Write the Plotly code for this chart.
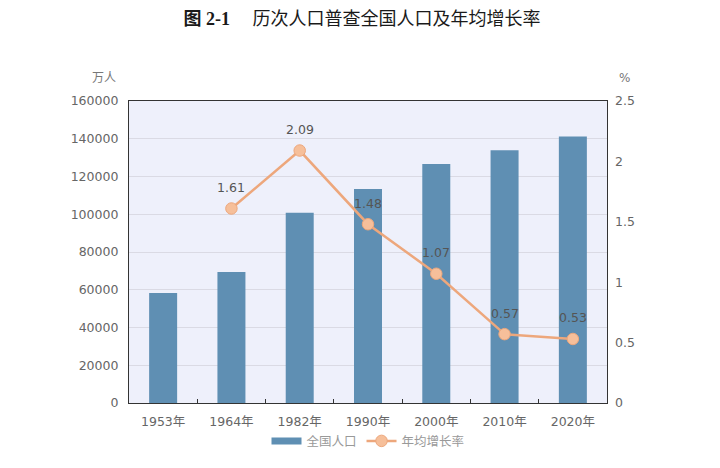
import plotly.graph_objects as go

categories = ["1953年", "1964年", "1982年", "1990年", "2000年", "2010年", "2020年"]
population = [58260, 69458, 100818, 113368, 126583, 133972, 141178]
growth_cats = ["1964年", "1982年", "1990年", "2000年", "2010年", "2020年"]
growth = [1.61, 2.09, 1.48, 1.07, 0.57, 0.53]
growth_labels = ["1.61", "2.09", "1.48", "1.07", "0.57", "0.53"]

font_fam = "DejaVu Sans, Noto Sans CJK SC, sans-serif"
tick_color = "#666666"
bar_color = "#5f8fb3"
line_color = "#eda77c"

# the page body has an 8px default margin; size the figure to fit the window
W, H = 712, 460

fig = go.Figure()
fig.add_trace(go.Bar(
    x=categories, y=population, name="全国人口",
    marker=dict(color=bar_color, line=dict(width=0)),
    width=0.41, yaxis="y", showlegend=False,
))
# legend proxy for the bar series (wide rectangle symbol)
fig.add_trace(go.Scatter(
    x=[None], y=[None], name="全国人口", mode="lines",
    line=dict(color=bar_color, width=7), showlegend=True,
))
fig.add_trace(go.Scatter(
    x=growth_cats, y=growth, name="年均增长率", yaxis="y2",
    mode="lines+markers",
    line=dict(color=line_color, width=2.5),
    marker=dict(color="#f6bf9a", size=11.5, line=dict(color=line_color, width=1)),
    cliponaxis=False,
))

annotations = [
    dict(x=c, y=v, xref="x", yref="y2", text=t, showarrow=False,
         yshift=21, font=dict(size=12.5, color="#555555", family=font_fam))
    for c, v, t in zip(growth_cats, growth, growth_labels)
]
annotations += [
    dict(text="万人", xref="paper", yref="paper", x=-0.023, y=1.075,
         xanchor="right", yanchor="middle", showarrow=False,
         font=dict(size=12, color="#777777")),
    dict(text="%", xref="paper", yref="paper", x=1.02, y=1.075,
         xanchor="left", yanchor="middle", showarrow=False,
         font=dict(size=12, color="#777777")),
]

fig.update_layout(
    width=W, height=H,
    margin=dict(l=121, r=113, t=93, b=65, autoexpand=False),
    paper_bgcolor="white",
    plot_bgcolor="#eef0fb",
    font=dict(family=font_fam, color=tick_color, size=12),
    title=dict(
        text="<b>图 2-1</b>     历次人口普查全国人口及年均增长率",
        x=354 / W, xanchor="center", xref="container",
        y=1 - 11 / H, yref="container", yanchor="middle",
        font=dict(family="Liberation Serif, Noto Sans CJK SC, serif", size=18, color="#1a1a1a"),
    ),
    bargap=0.59,
    showlegend=True,
    legend=dict(
        orientation="h", x=0.5, xanchor="center", y=-0.077, yanchor="top",
        font=dict(size=12.5, color="#999999", family=font_fam),
        bgcolor="rgba(0,0,0,0)", itemwidth=30, tracegroupgap=0,
        traceorder="normal",
    ),
    xaxis=dict(
        type="category", categoryorder="array", categoryarray=categories,
        showline=True, linecolor="#333333", linewidth=1.2, mirror=True,
        ticks="inside", tickson="boundaries", ticklen=4, tickcolor="#333333",
        showgrid=False, tickfont=dict(size=12.5, color=tick_color),
        ticklabelstandoff=7,
    ),
    yaxis=dict(
        range=[0, 160000], dtick=20000, tickformat="d",
        showline=True, linecolor="#333333", linewidth=1.2, mirror=True,
        gridcolor="#dadae4", gridwidth=1, zeroline=False,
        ticks="", tickfont=dict(size=12.5, color=tick_color),
        ticklabelstandoff=7,
    ),
    yaxis2=dict(
        range=[0, 2.5], dtick=0.5, overlaying="y", side="right",
        showgrid=False, zeroline=False, showline=False,
        ticks="", tickfont=dict(size=12.5, color=tick_color),
        ticklabelstandoff=7,
    ),
    annotations=annotations,
)

fig.write_html("out.html")
